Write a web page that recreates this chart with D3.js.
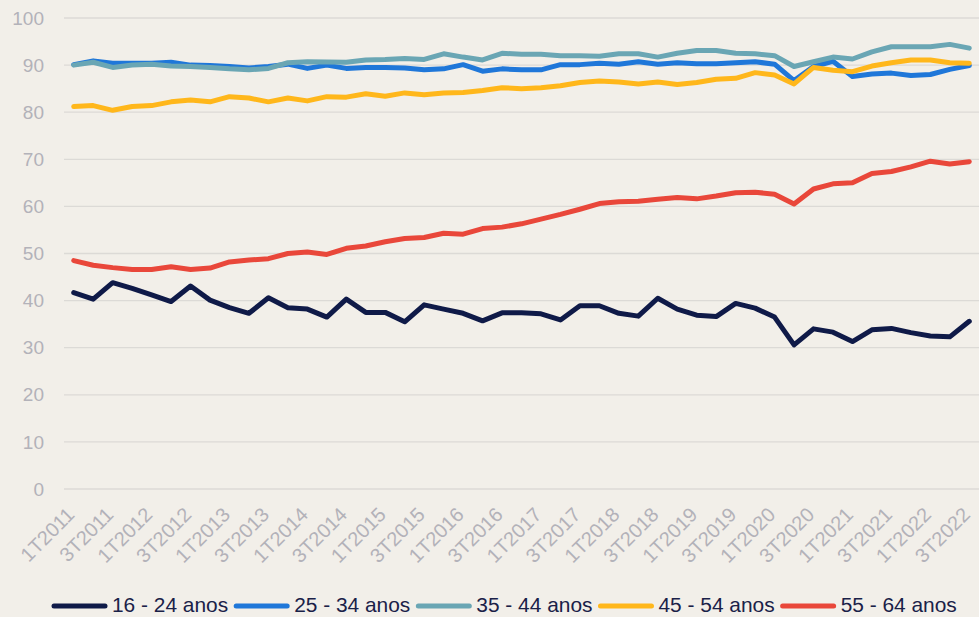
<!DOCTYPE html>
<html>
<head>
<meta charset="utf-8">
<script src="https://cdn.jsdelivr.net/npm/d3@7"></script>
<style>
  html, body { margin: 0; padding: 0; background: #f2efe9; }
  svg { display: block; font-family: "Liberation Sans", Arial, sans-serif; }
</style>
</head>
<body>
<div id="chart"></div>
<script>
// quarters 1T2011 .. 3T2022
const quarters = [];
for (let y = 2011; y <= 2022; y++) {
  for (let q = 1; q <= 4; q++) {
    if (y === 2022 && q > 3) break;
    quarters.push(q + "T" + y);
  }
}

const seriesNames = ["16 - 24 anos", "25 - 34 anos", "35 - 44 anos", "45 - 54 anos", "55 - 64 anos"];
const seriesColors = ["#0f1a48", "#1f77d9", "#6aa6b4", "#ffb71b", "#e9473a"];

const age16_24 = [41.7, 40.3, 43.8, 42.6, 41.2, 39.8, 43.1, 40.1, 38.5, 37.3, 40.6, 38.5, 38.2, 36.5,
  40.3, 37.5, 37.5, 35.5, 39.1, 38.2, 37.3, 35.7, 37.4, 37.4, 37.2, 35.9, 38.9, 38.9, 37.3, 36.7,
  40.5, 38.2, 36.9, 36.6, 39.4, 38.4, 36.5, 30.6, 34.0, 33.3, 31.3, 33.8, 34.1, 33.2, 32.5, 32.3, 35.6];
const age25_34 = [90.1, 90.9, 90.4, 90.4, 90.4, 90.6, 90.0, 89.9, 89.7, 89.4, 89.7, 90.2, 89.3, 90.0,
  89.3, 89.5, 89.5, 89.4, 89.0, 89.2, 90.1, 88.7, 89.2, 89.0, 89.0, 90.1, 90.1, 90.4, 90.2, 90.7,
  90.2, 90.5, 90.3, 90.3, 90.5, 90.7, 90.2, 86.7, 89.7, 90.8, 87.6, 88.1, 88.3, 87.8, 88.0, 89.1, 89.9];
const age35_44 = [90.0, 90.6, 89.5, 90.0, 90.2, 89.8, 89.7, 89.5, 89.2, 89.0, 89.3, 90.5, 90.7, 90.65,
  90.6, 91.1, 91.2, 91.4, 91.2, 92.4, 91.7, 91.1, 92.5, 92.3, 92.3, 92.0, 92.0, 91.9, 92.4, 92.4,
  91.7, 92.5, 93.1, 93.1, 92.5, 92.4, 92.0, 89.7, 90.7, 91.7, 91.3, 92.8, 93.9, 93.9, 93.9, 94.4, 93.6];
const age45_54 = [81.2, 81.4, 80.4, 81.2, 81.4, 82.2, 82.6, 82.2, 83.3, 83.0, 82.2, 83.0, 82.4, 83.3,
  83.2, 83.9, 83.4, 84.1, 83.7, 84.1, 84.2, 84.6, 85.2, 85.0, 85.2, 85.6, 86.3, 86.6, 86.4, 86.0,
  86.4, 85.9, 86.3, 87.0, 87.2, 88.4, 87.9, 86.0, 89.5, 88.9, 88.6, 89.8, 90.5, 91.1, 91.1, 90.5, 90.4];
const age55_64 = [48.5, 47.5, 47.0, 46.6, 46.6, 47.2, 46.6, 46.9, 48.2, 48.6, 48.9, 50.0, 50.3, 49.8,
  51.1, 51.6, 52.5, 53.2, 53.4, 54.3, 54.1, 55.3, 55.6, 56.3, 57.3, 58.3, 59.4, 60.6, 61.0, 61.1,
  61.5, 61.9, 61.6, 62.2, 62.9, 63.0, 62.6, 60.5, 63.7, 64.8, 65.0, 67.0, 67.4, 68.4, 69.6, 69.0, 69.5];
const seriesValues = [age16_24, age25_34, age35_44, age45_54, age55_64];

const yTicks = [0, 10, 20, 30, 40, 50, 60, 70, 80, 90, 100];

const W = 979, H = 617;
const plot = {left: 64, right: 979, top: 18, bottom: 489};

const svg = d3.select("#chart").append("svg")
  .attr("width", W).attr("height", H);

svg.append("rect").attr("width", W).attr("height", H).attr("fill", "#f2efe9");

const x = d3.scaleBand().domain(quarters).range([plot.left, plot.right]);
const y = d3.scaleLinear().domain([0, 100]).range([plot.bottom, plot.top]);
const cx = d => x(d) + x.bandwidth() / 2;

// gridlines
svg.append("g").selectAll("line").data(yTicks).enter().append("line")
  .attr("x1", plot.left).attr("x2", plot.right)
  .attr("y1", d => y(d)).attr("y2", d => y(d))
  .attr("stroke", "#dcdad6").attr("stroke-width", 1.3);

// y labels
svg.append("g").selectAll("text").data(yTicks).enter().append("text")
  .attr("x", 44).attr("y", d => y(d)).attr("dy", "0.35em")
  .attr("text-anchor", "end")
  .attr("fill", "#b3b2b9").attr("font-size", 19)
  .text(d => d);

// x labels (every other quarter)
const xLabels = quarters.filter((d, i) => i % 2 === 0);
svg.append("g").selectAll("text").data(xLabels).enter().append("text")
  .attr("transform", d => "translate(" + (cx(d) + 2) + "," + 516 + ") rotate(-45)")
  .attr("text-anchor", "end")
  .attr("fill", "#b3b2b9").attr("font-size", 20)
  .text(d => d);

// lines
const line = d3.line().x((d, i) => cx(quarters[i])).y(d => y(d));
svg.append("g").selectAll("path").data(seriesValues).enter().append("path")
  .attr("d", d => line(d))
  .attr("fill", "none")
  .attr("stroke", (d, i) => seriesColors[i])
  .attr("stroke-width", 5)
  .attr("stroke-linejoin", "round")
  .attr("stroke-linecap", "round");

// legend
const legend = svg.append("g");
let lx = 52;
const ly = 605;
seriesNames.forEach((name, i) => {
  legend.append("line")
    .attr("x1", lx + 2).attr("x2", lx + 53)
    .attr("y1", ly + 1).attr("y2", ly + 1)
    .attr("stroke", seriesColors[i]).attr("stroke-width", 5)
    .attr("stroke-linecap", "round");
  const t = legend.append("text")
    .attr("x", lx + 60).attr("y", ly).attr("dy", "0.35em")
    .attr("fill", "#1a2148").attr("font-size", 20.9)
    .text(name);
  lx += 60 + t.node().getComputedTextLength() + 6;
});
</script>
</body>
</html>
